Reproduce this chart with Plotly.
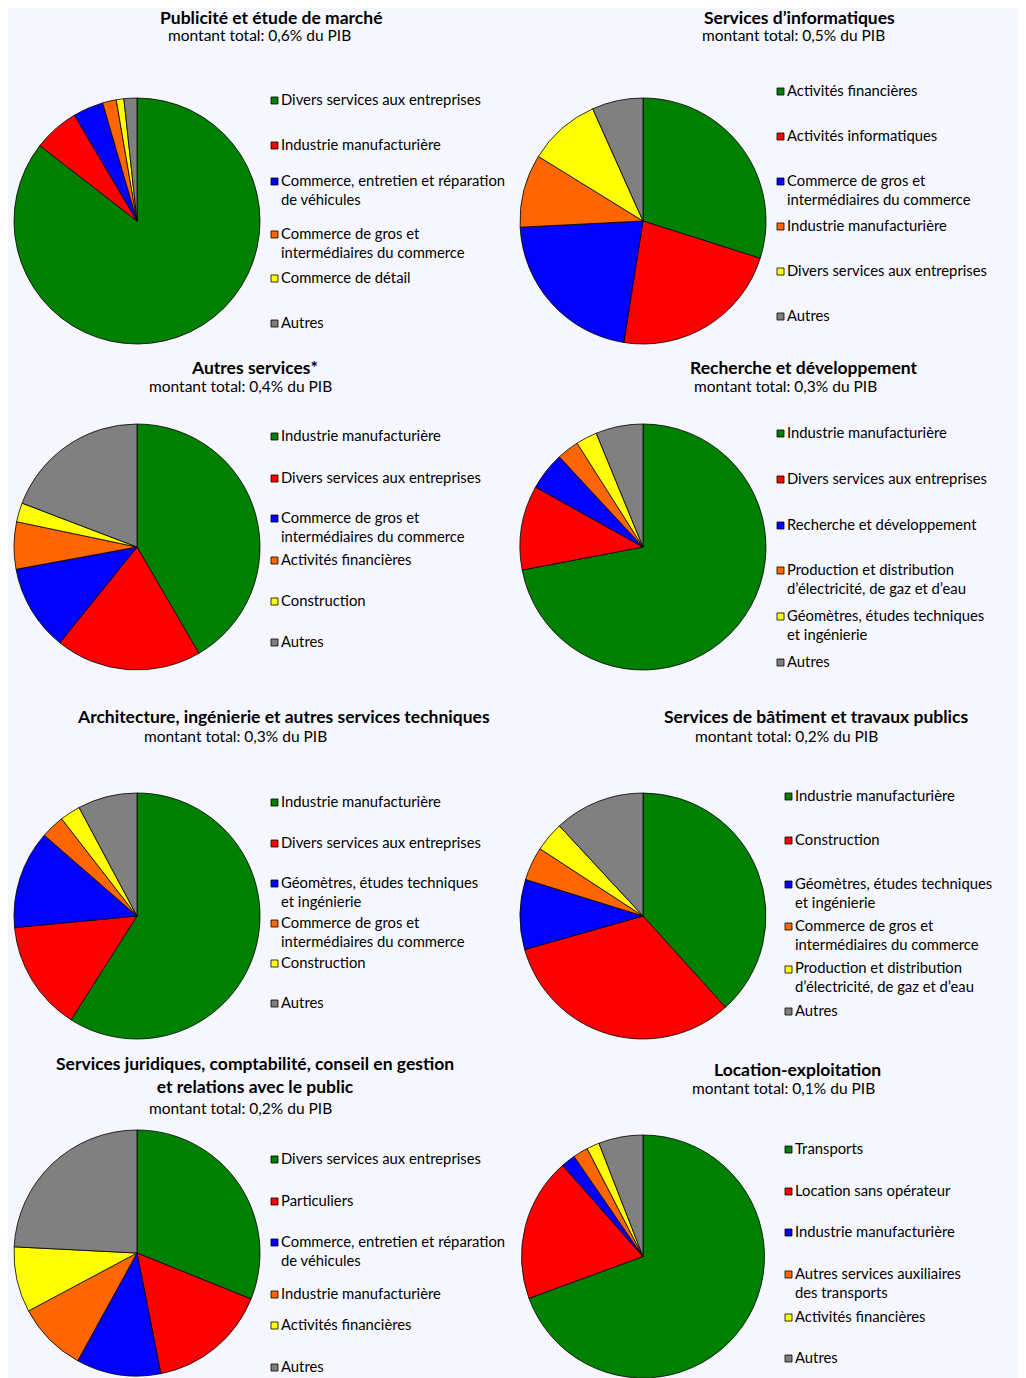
import plotly.graph_objects as go

# page offset: the figure div sits inside the body's 8px margin
OFF = 8
W, H = 1026 - OFF, 1378 - OFF

COLORS = ["#008000", "#ff0000", "#0000ff", "#ff6600", "#ffff00", "#808080"]

# ---- data -------------------------------------------------------------
titles = [
    "Publicité et étude de marché",
    "Services d’informatiques",
    "Autres services*",
    "Recherche et développement",
    "Architecture, ingénierie et autres services techniques",
    "Services de bâtiment et travaux publics",
    "Services juridiques, comptabilité, conseil en gestion<br>et relations avec le public",
    "Location-exploitation",
]
subtitles = [
    "montant total: 0,6% du PIB",
    "montant total: 0,5% du PIB",
    "montant total: 0,4% du PIB",
    "montant total: 0,3% du PIB",
    "montant total: 0,3% du PIB",
    "montant total: 0,2% du PIB",
    "montant total: 0,2% du PIB",
    "montant total: 0,1% du PIB",
]

labels_pub = ["Divers services aux entreprises", "Industrie manufacturière",
              "Commerce, entretien et réparation\nde véhicules",
              "Commerce de gros et\nintermédiaires du commerce",
              "Commerce de détail", "Autres"]
values_pub = [85.5, 6.0, 4.0, 1.8, 1.0, 1.7]

labels_info = ["Activités financières", "Activités informatiques",
               "Commerce de gros et\nintermédiaires du commerce",
               "Industrie manufacturière", "Divers services aux entreprises", "Autres"]
values_info = [29.9, 22.6, 21.7, 9.6, 9.5, 6.7]

labels_autres = ["Industrie manufacturière", "Divers services aux entreprises",
                 "Commerce de gros et\nintermédiaires du commerce",
                 "Activités financières", "Construction", "Autres"]
values_autres = [41.6, 19.2, 11.3, 6.2, 2.5, 19.2]

labels_rd = ["Industrie manufacturière", "Divers services aux entreprises",
             "Recherche et développement",
             "Production et distribution\nd’électricité, de gaz et d’eau",
             "Géomètres, études techniques\net ingénierie", "Autres"]
values_rd = [72.0, 11.1, 5.0, 2.9, 2.8, 6.2]

labels_archi = ["Industrie manufacturière", "Divers services aux entreprises",
                "Géomètres, études techniques\net ingénierie",
                "Commerce de gros et\nintermédiaires du commerce",
                "Construction", "Autres"]
values_archi = [59.0, 14.5, 12.9, 3.1, 2.7, 7.8]

labels_btp = ["Industrie manufacturière", "Construction",
              "Géomètres, études techniques\net ingénierie",
              "Commerce de gros et\nintermédiaires du commerce",
              "Production et distribution\nd’électricité, de gaz et d’eau", "Autres"]
values_btp = [38.3, 32.3, 9.2, 4.4, 3.9, 11.9]

labels_jur = ["Divers services aux entreprises", "Particuliers",
              "Commerce, entretien et réparation\nde véhicules",
              "Industrie manufacturière", "Activités financières", "Autres"]
values_jur = [31.1, 15.8, 11.1, 9.2, 8.6, 24.2]

labels_loc = ["Transports", "Location sans opérateur", "Industrie manufacturière",
              "Autres services auxiliaires\ndes transports",
              "Activités financières", "Autres"]
values_loc = [69.4, 19.1, 1.9, 2.0, 1.7, 5.9]

all_labels = [labels_pub, labels_info, labels_autres, labels_rd,
              labels_archi, labels_btp, labels_jur, labels_loc]
all_values = [values_pub, values_info, values_autres, values_rd,
              values_archi, values_btp, values_jur, values_loc]

# ---- layout (pixel positions in the page) -------------------------------
pie_centers = [(137, 221), (643, 221), (137, 547), (643, 547),
               (137, 916), (643, 916), (137, 1253), (643, 1258)]
R = 123
title_pos = [(271, 17), (799, 17), (254, 367), (804, 367),
             (283, 717), (816, 717), (255, 1075), (797, 1069)]
sub_pos = [(259, 35), (793, 35), (240, 386), (785, 386),
           (235, 736), (786, 736), (240, 1108), (783, 1088)]
legend_x = [271, 777, 271, 777, 271, 785, 271, 785]
legend_y = [
    [99, 144, 180, 233, 277, 322],
    [90, 135, 180, 225, 270, 315],
    [435, 477, 517, 559, 600, 641],
    [432, 478, 524, 569, 615, 661],
    [801, 842, 882, 922, 962, 1002],
    [795, 839, 883, 925, 968, 1010],
    [1158, 1200, 1241, 1293, 1324, 1366],
    [1148, 1190, 1231, 1273, 1316, 1357],
]

FONT = "Lato, 'Open Sans', sans-serif"


def px(x):
    return (x - OFF) / W


def py(y):
    return 1 - (y - OFF) / H


fig = go.Figure()
shapes = []
annotations = []

# panel background
shapes.append(dict(type="rect", xref="paper", yref="paper",
                   x0=0, x1=px(1022), y0=0, y1=1,
                   fillcolor="#f6f7fe", line=dict(width=0), layer="below"))

for i in range(8):
    cx, cy = pie_centers[i]
    y0 = max(0.0, py(cy + R))
    y1 = min(1.0, py(cy - R))
    fig.add_trace(go.Pie(
        labels=[l.replace("\n", " ") for l in all_labels[i]],
        values=all_values[i],
        sort=False,
        direction="clockwise",
        rotation=0,
        textinfo="none",
        hoverinfo="label+percent",
        showlegend=False,
        marker=dict(colors=COLORS, line=dict(color="#000000", width=0.8)),
        domain=dict(x=[px(cx - R), px(cx + R)], y=[y0, y1]),
    ))

    tx, ty = title_pos[i]
    annotations.append(dict(text="<b>" + titles[i] + "</b>", x=px(tx), y=py(ty),
                            xref="paper", yref="paper", showarrow=False,
                            xanchor="center", yanchor="middle",
                            font=dict(family=FONT, size=17.5, color="#000000")))
    sx, sy = sub_pos[i]
    annotations.append(dict(text=subtitles[i], x=px(sx), y=py(sy),
                            xref="paper", yref="paper", showarrow=False,
                            xanchor="center", yanchor="middle",
                            font=dict(family=FONT, size=15.5, color="#000000")))

    lx = legend_x[i]
    for j, lab in enumerate(all_labels[i]):
        ly = legend_y[i][j]
        shapes.append(dict(type="rect", xref="paper", yref="paper",
                           x0=px(lx), x1=px(lx + 7),
                           y0=py(ly + 5), y1=py(ly - 2),
                           fillcolor=COLORS[j], line=dict(color="#000000", width=0.8)))
        lines = lab.split("\n")
        yc = ly + 9 * (len(lines) - 1)
        annotations.append(dict(text="<br>".join(lines), x=px(lx + 8), y=py(yc),
                                xref="paper", yref="paper", showarrow=False,
                                xanchor="left", yanchor="middle", align="left",
                                font=dict(family=FONT, size=14.8, color="#000000")))

fig.update_layout(
    width=W, height=H,
    margin=dict(l=0, r=0, t=0, b=0),
    paper_bgcolor="#ffffff",
    plot_bgcolor="#ffffff",
    shapes=shapes,
    annotations=annotations,
    showlegend=False,
)

fig.write_html("out.html")
